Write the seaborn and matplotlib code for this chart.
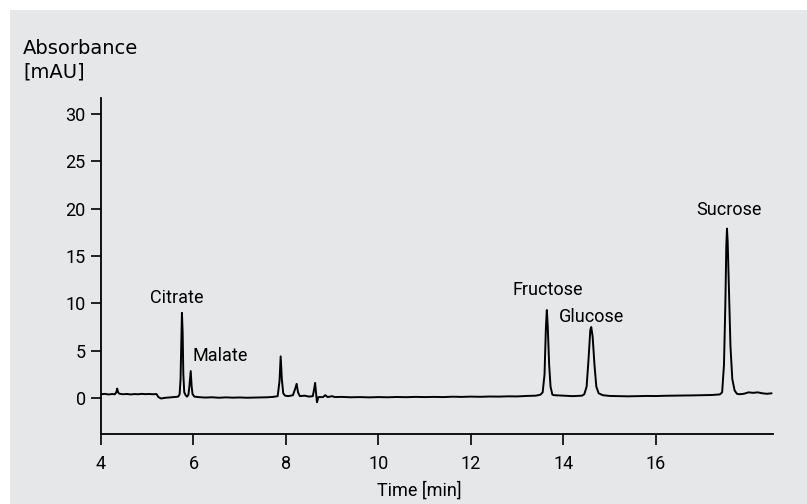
import numpy as np
import pandas as pd
import seaborn as sns
import matplotlib.pyplot as plt
from matplotlib.patches import Rectangle

# chromatogram trace (time in min, absorbance in mAU)
times = [4.00, 4.08, 4.16, 4.24, 4.30, 4.33, 4.35, 4.37, 4.40, 4.48, 4.56, 4.64, 4.72, 4.80,
         4.88, 4.96, 5.04, 5.12, 5.20, 5.24, 5.30, 5.38, 5.46, 5.54, 5.62, 5.67,
         5.70, 5.72, 5.74, 5.75, 5.765, 5.78, 5.80, 5.83, 5.86, 5.89,
         5.91, 5.94, 5.96, 5.98, 6.02, 6.10, 6.25, 6.40, 6.55, 6.70, 6.85, 7.00,
         7.15, 7.30, 7.45, 7.60, 7.72, 7.82, 7.86, 7.885, 7.91, 7.94, 7.98, 8.05,
         8.15, 8.20, 8.23, 8.26, 8.30, 8.40, 8.50, 8.58, 8.61, 8.63, 8.65, 8.67,
         8.70, 8.80, 8.85, 8.90, 9.00, 9.05, 9.20, 9.40, 9.60, 9.80, 10.00, 10.20,
         10.40, 10.60, 10.80, 11.00, 11.20, 11.40, 11.60, 11.80, 12.00, 12.20, 12.40,
         12.60, 12.80, 13.00, 13.20, 13.40, 13.50, 13.55, 13.59, 13.62, 13.64, 13.66,
         13.69, 13.72, 13.76, 13.80, 13.90, 14.00, 14.10, 14.20, 14.30, 14.40,
         14.45, 14.50, 14.54, 14.58, 14.60, 14.63, 14.67, 14.71, 14.76, 14.85,
         15.00, 15.20, 15.40, 15.60, 15.80, 16.00, 16.20, 16.40, 16.60, 16.80,
         17.00, 17.20, 17.38, 17.43, 17.47, 17.50, 17.52, 17.535, 17.55, 17.58,
         17.61, 17.65, 17.70, 17.75, 17.80, 17.90, 18.00, 18.10, 18.20, 18.30,
         18.40, 18.50]
absorbance = [0.40, 0.44, 0.38, 0.42, 0.40, 0.60, 1.00, 0.60, 0.45, 0.40, 0.43, 0.38, 0.42, 0.40,
              0.44, 0.41, 0.43, 0.40, 0.42, 0.10, -0.05, 0.02, 0.05, 0.08, 0.12, 0.15,
              0.40, 2.00, 7.00, 9.00, 7.00, 2.50, 0.60, 0.30, 0.15, 0.35,
              1.20, 2.85, 1.20, 0.40, 0.15, 0.10, 0.05, 0.08, 0.03, 0.07, 0.04, 0.06,
              0.03, 0.05, 0.07, 0.08, 0.12, 0.20, 1.80, 4.40, 2.00, 0.50, 0.25, 0.20,
              0.30, 1.00, 1.50, 0.60, 0.20, 0.25, 0.15, 0.20, 1.00, 1.60, 0.50, -0.45,
              0.10, 0.10, 0.30, 0.10, 0.20, 0.10, 0.12, 0.08, 0.10, 0.07, 0.10, 0.08,
              0.11, 0.09, 0.12, 0.10, 0.12, 0.10, 0.14, 0.12, 0.15, 0.13, 0.16,
              0.15, 0.18, 0.17, 0.22, 0.25, 0.35, 0.60, 2.50, 7.50, 9.30, 7.50,
              3.50, 1.20, 0.35, 0.30, 0.28, 0.25, 0.22, 0.20, 0.22, 0.25,
              0.40, 1.20, 4.00, 7.20, 7.50, 6.50, 3.50, 1.20, 0.50, 0.30,
              0.22, 0.20, 0.18, 0.20, 0.22, 0.21, 0.24, 0.25, 0.27, 0.28,
              0.30, 0.32, 0.38, 0.60, 3.50, 10.00, 16.00, 17.90, 16.50, 11.00,
              5.50, 2.00, 0.80, 0.45, 0.40, 0.45, 0.60, 0.55, 0.60, 0.50,
              0.45, 0.50]

peak_names = ['Citrate', 'Malate', 'Fructose', 'Glucose', 'Sucrose']
label_x = [5.64, 6.57, 13.66, 14.61, 17.58]
label_y = [10.6, 4.4, 11.4, 8.6, 19.9]

y_ticks = [0, 5, 10, 15, 20, 25, 30]
x_ticks = [4, 6, 8, 10, 12, 14, 16]

bg = '#e6e7e8'
narrow = ['Liberation Sans Narrow', 'DejaVu Sans Condensed', 'Roboto', 'DejaVu Sans']

sns.set_style('ticks')
plt.rcParams['font.family'] = narrow
plt.rcParams['text.color'] = 'black'
plt.rcParams['xtick.color'] = 'black'
plt.rcParams['ytick.color'] = 'black'
plt.rcParams['axes.edgecolor'] = 'black'
plt.rcParams['axes.labelcolor'] = 'black'

fig = plt.figure(figsize=(8.07, 5.04), dpi=100, facecolor='white')
fig.patches.append(Rectangle((10 / 807, 0), 1, 494 / 504, transform=fig.transFigure,
                             facecolor=bg, edgecolor='none', zorder=-10))
ax = fig.add_axes([101 / 807, 70 / 504, 672 / 807, 336 / 504])
ax.set_facecolor(bg)

df = pd.DataFrame({'time': times, 'abs': absorbance})
sns.lineplot(data=df, x='time', y='abs', ax=ax, color='black', lw=1.4, sort=False)

for name, tx, ty in zip(peak_names, label_x, label_y):
    ax.text(tx, ty, name, ha='center', va='center', fontsize=13, family=narrow)

ax.set_xlim(4, 18.53)
ax.set_ylim(-3.8, 31.7)
ax.set_xticks(x_ticks)
ax.set_yticks(y_ticks)
ax.tick_params(axis='y', length=7, width=1.2, pad=4, labelsize=13)
ax.tick_params(axis='x', length=8, width=1.2, pad=7, labelsize=13)
for s in ['top', 'right']:
    ax.spines[s].set_visible(False)
for s in ['left', 'bottom']:
    ax.spines[s].set_linewidth(1.3)

ax.set_ylabel('')
ax.set_xlabel('Time [min]', fontsize=13)
ax.xaxis.set_label_coords(0.473, -0.14)
fig.text(23 / 807, 1 - 39 / 504, 'Absorbance\n[mAU]', ha='left', va='top',
         fontsize=14, family=['DejaVu Sans'], linespacing=1.3)

fig.savefig('out.png', dpi=100)
